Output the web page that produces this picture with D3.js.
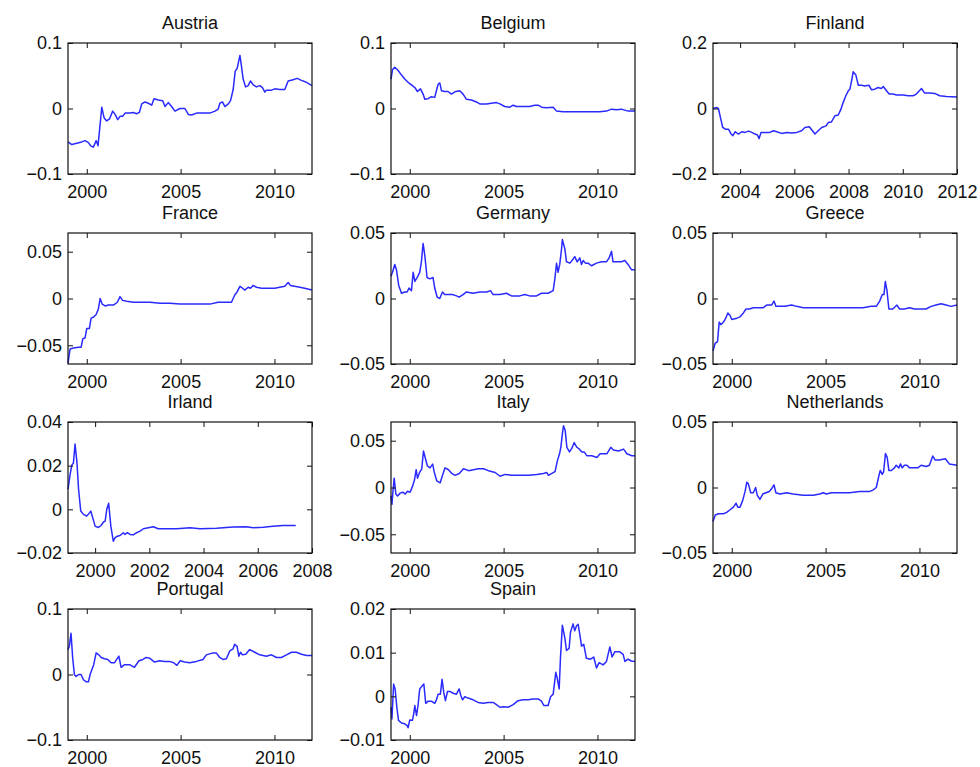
<!DOCTYPE html>
<html>
<head>
<meta charset="utf-8">
<script src="https://cdn.jsdelivr.net/npm/d3@7"></script>
<style>
  body { margin: 0; background: #fff; }
  text { font-family: "Liberation Sans", Arial, sans-serif; fill: #111; }
</style>
</head>
<body>
<div id="chart"></div>
<script>
// values: [decimal year, value]
var austria = [[1999.0,-0.051],[1999.2,-0.055],[1999.47,-0.053],[1999.73,-0.051],[1999.91,-0.049],[2000.09,-0.052],[2000.21,-0.057],[2000.35,-0.059],[2000.5,-0.049],[2000.6,-0.057],[2000.8,0.002],[2000.92,-0.014],[2001.06,-0.019],[2001.21,-0.016],[2001.38,-0.004],[2001.51,-0.009],[2001.65,-0.017],[2001.77,-0.012],[2001.91,-0.012],[2002.04,-0.007],[2002.3,-0.007],[2002.48,-0.006],[2002.66,-0.008],[2002.8,-0.006],[2002.93,0.007],[2003.1,0.010],[2003.28,0.008],[2003.46,0.005],[2003.58,0.015],[2003.81,0.013],[2004.04,0.012],[2004.17,0.003],[2004.34,0.009],[2004.52,0.003],[2004.7,-0.004],[2004.96,0.000],[2005.23,0.000],[2005.41,-0.009],[2005.59,-0.010],[2005.85,-0.007],[2006.21,-0.007],[2006.56,-0.007],[2006.83,-0.004],[2007.0,-0.001],[2007.09,0.008],[2007.23,0.010],[2007.36,0.003],[2007.54,0.007],[2007.66,0.012],[2007.8,0.029],[2007.91,0.057],[2008.01,0.061],[2008.16,0.081],[2008.24,0.065],[2008.33,0.045],[2008.46,0.033],[2008.6,0.035],[2008.72,0.042],[2008.87,0.036],[2009.04,0.033],[2009.22,0.035],[2009.36,0.032],[2009.49,0.025],[2009.57,0.028],[2009.84,0.028],[2010.02,0.030],[2010.28,0.029],[2010.55,0.029],[2010.73,0.042],[2010.99,0.044],[2011.21,0.046],[2011.44,0.043],[2011.7,0.040],[2012.0,0.035]];

var belgium = [[1999.0,0.045],[1999.08,0.059],[1999.2,0.063],[1999.38,0.058],[1999.56,0.051],[1999.73,0.045],[1999.91,0.040],[2000.09,0.036],[2000.27,0.032],[2000.41,0.026],[2000.57,0.030],[2000.71,0.022],[2000.8,0.014],[2000.98,0.015],[2001.15,0.018],[2001.33,0.017],[2001.51,0.037],[2001.6,0.039],[2001.69,0.027],[2001.86,0.026],[2002.04,0.026],[2002.22,0.022],[2002.45,0.026],[2002.66,0.027],[2002.84,0.022],[2003.02,0.014],[2003.29,0.013],[2003.55,0.010],[2003.73,0.007],[2004.09,0.007],[2004.35,0.008],[2004.62,0.009],[2004.8,0.007],[2005.06,0.003],[2005.33,0.002],[2005.51,0.005],[2005.68,0.003],[2006.04,0.003],[2006.39,0.003],[2006.66,0.005],[2006.84,0.005],[2007.02,0.002],[2007.28,0.001],[2007.64,0.002],[2007.82,-0.004],[2008.17,-0.005],[2008.7,-0.005],[2009.41,-0.005],[2010.12,-0.005],[2010.48,-0.004],[2010.75,-0.001],[2011.01,-0.002],[2011.28,-0.001],[2011.63,-0.004],[2012.0,-0.004]];

var finland = [[2003.0,0.000],[2003.14,0.003],[2003.2,0.000],[2003.29,-0.033],[2003.36,-0.058],[2003.45,-0.063],[2003.57,-0.063],[2003.67,-0.078],[2003.73,-0.083],[2003.82,-0.071],[2003.94,-0.078],[2004.06,-0.071],[2004.18,-0.073],[2004.31,-0.069],[2004.43,-0.073],[2004.55,-0.078],[2004.64,-0.081],[2004.7,-0.092],[2004.77,-0.073],[2004.92,-0.073],[2005.1,-0.073],[2005.23,-0.068],[2005.35,-0.071],[2005.53,-0.076],[2005.72,-0.073],[2005.9,-0.075],[2006.09,-0.073],[2006.27,-0.068],[2006.39,-0.058],[2006.55,-0.056],[2006.67,-0.068],[2006.76,-0.078],[2006.88,-0.068],[2007.01,-0.058],[2007.17,-0.053],[2007.25,-0.043],[2007.37,-0.041],[2007.5,-0.022],[2007.62,-0.020],[2007.72,-0.002],[2007.8,0.018],[2007.9,0.039],[2007.99,0.054],[2008.05,0.059],[2008.11,0.084],[2008.17,0.112],[2008.27,0.102],[2008.36,0.071],[2008.48,0.071],[2008.6,0.069],[2008.75,0.071],[2008.85,0.057],[2008.97,0.059],[2009.09,0.064],[2009.21,0.061],[2009.28,0.067],[2009.4,0.054],[2009.5,0.044],[2009.64,0.044],[2009.77,0.041],[2010.01,0.041],[2010.2,0.039],[2010.38,0.039],[2010.5,0.044],[2010.69,0.061],[2010.81,0.047],[2010.99,0.047],[2011.18,0.046],[2011.36,0.039],[2011.61,0.037],[2012.0,0.035]];

var france = [[1999.0,-0.069],[1999.11,-0.054],[1999.29,-0.053],[1999.56,-0.052],[1999.7,-0.052],[1999.79,-0.043],[1999.91,-0.042],[2000.0,-0.032],[2000.14,-0.032],[2000.23,-0.021],[2000.35,-0.020],[2000.5,-0.017],[2000.62,-0.011],[2000.71,0.000],[2000.82,-0.006],[2000.98,-0.008],[2001.15,-0.007],[2001.42,-0.007],[2001.63,-0.004],[2001.77,0.002],[2001.91,-0.002],[2002.13,-0.003],[2002.48,-0.004],[2002.84,-0.004],[2003.37,-0.004],[2003.9,-0.005],[2004.43,-0.005],[2004.96,-0.006],[2005.5,-0.006],[2006.03,-0.006],[2006.56,-0.006],[2007.0,-0.004],[2007.45,-0.004],[2007.71,-0.004],[2007.89,0.004],[2008.01,0.007],[2008.16,0.013],[2008.3,0.011],[2008.42,0.009],[2008.6,0.012],[2008.72,0.011],[2008.87,0.014],[2009.04,0.012],[2009.31,0.011],[2009.57,0.011],[2009.84,0.011],[2010.02,0.011],[2010.28,0.012],[2010.55,0.013],[2010.73,0.017],[2010.85,0.014],[2011.08,0.013],[2011.35,0.012],[2011.61,0.011],[2012.0,0.009]];

var germany = [[1999.0,0.017],[1999.08,0.020],[1999.2,0.026],[1999.29,0.022],[1999.41,0.010],[1999.56,0.004],[1999.73,0.005],[1999.86,0.005],[1999.96,0.008],[2000.09,0.006],[2000.18,0.020],[2000.27,0.013],[2000.39,0.016],[2000.53,0.020],[2000.62,0.028],[2000.71,0.042],[2000.8,0.033],[2000.92,0.016],[2001.07,0.015],[2001.24,0.016],[2001.33,0.008],[2001.46,0.001],[2001.6,0.000],[2001.74,0.005],[2001.86,0.003],[2002.04,0.003],[2002.27,0.003],[2002.49,0.002],[2002.63,0.001],[2002.84,0.003],[2003.02,0.005],[2003.37,0.004],[2003.73,0.005],[2004.09,0.005],[2004.3,0.006],[2004.44,0.003],[2004.8,0.003],[2005.15,0.004],[2005.42,0.002],[2005.86,0.002],[2006.13,0.003],[2006.39,0.002],[2006.75,0.002],[2007.02,0.004],[2007.37,0.004],[2007.64,0.006],[2007.73,0.015],[2007.82,0.027],[2007.9,0.020],[2007.99,0.026],[2008.08,0.037],[2008.13,0.045],[2008.26,0.038],[2008.35,0.028],[2008.53,0.027],[2008.7,0.030],[2008.79,0.032],[2008.92,0.028],[2009.06,0.031],[2009.15,0.026],[2009.24,0.029],[2009.36,0.027],[2009.5,0.027],[2009.68,0.025],[2009.95,0.027],[2010.21,0.028],[2010.48,0.028],[2010.62,0.031],[2010.75,0.036],[2010.83,0.028],[2011.1,0.028],[2011.28,0.028],[2011.46,0.029],[2011.63,0.026],[2011.81,0.022],[2012.0,0.022]];

var greece = [[1999.0,-0.040],[1999.12,-0.034],[1999.24,-0.033],[1999.33,-0.018],[1999.42,-0.020],[1999.56,-0.018],[1999.68,-0.015],[1999.79,-0.011],[1999.91,-0.013],[2000.0,-0.016],[2000.27,-0.015],[2000.44,-0.014],[2000.62,-0.011],[2000.76,-0.008],[2000.94,-0.008],[2001.15,-0.007],[2001.42,-0.007],[2001.68,-0.007],[2001.86,-0.005],[2002.12,-0.005],[2002.25,-0.002],[2002.35,-0.006],[2002.57,-0.006],[2002.83,-0.006],[2003.19,-0.005],[2003.45,-0.006],[2003.81,-0.007],[2004.51,-0.007],[2005.4,-0.007],[2006.28,-0.007],[2006.99,-0.007],[2007.43,-0.006],[2007.7,-0.006],[2007.88,-0.002],[2008.02,0.003],[2008.11,0.003],[2008.18,0.013],[2008.27,0.006],[2008.37,-0.008],[2008.58,-0.008],[2008.8,-0.005],[2008.94,-0.008],[2009.2,-0.008],[2009.47,-0.007],[2009.73,-0.008],[2010.09,-0.008],[2010.35,-0.008],[2010.62,-0.006],[2010.88,-0.005],[2011.15,-0.004],[2011.42,-0.005],[2011.68,-0.006],[2012.0,-0.005]];

var irland = [[1999.0,0.0092],[1999.08,0.0161],[1999.14,0.0202],[1999.2,0.0212],[1999.26,0.0299],[1999.33,0.0215],[1999.39,0.0092],[1999.47,-0.0008],[1999.57,-0.0023],[1999.69,-0.0031],[1999.75,-0.0023],[1999.84,-0.0008],[1999.91,-0.0038],[2000.0,-0.0077],[2000.12,-0.0083],[2000.22,-0.0074],[2000.31,-0.0058],[2000.37,-0.0054],[2000.43,0.0000],[2000.5,0.0028],[2000.58,-0.0077],[2000.67,-0.0146],[2000.74,-0.0130],[2000.82,-0.0123],[2000.92,-0.0120],[2001.04,-0.0107],[2001.1,-0.0115],[2001.19,-0.0107],[2001.29,-0.0115],[2001.41,-0.0117],[2001.53,-0.0107],[2001.66,-0.0100],[2001.78,-0.0089],[2001.96,-0.0084],[2002.15,-0.0080],[2002.33,-0.0089],[2002.64,-0.0089],[2003.01,-0.0089],[2003.5,-0.0084],[2003.87,-0.0089],[2004.48,-0.0087],[2005.09,-0.0081],[2005.58,-0.0080],[2005.83,-0.0084],[2006.2,-0.0082],[2006.56,-0.0077],[2006.93,-0.0074],[2007.4,-0.0074]];

var italy = [[1999.0,-0.009],[1999.05,-0.018],[1999.1,-0.005],[1999.17,0.010],[1999.26,-0.007],[1999.35,-0.009],[1999.49,-0.006],[1999.63,-0.005],[1999.76,-0.007],[1999.88,-0.004],[2000.02,-0.005],[2000.16,0.002],[2000.25,0.008],[2000.34,0.019],[2000.41,0.010],[2000.52,0.016],[2000.64,0.020],[2000.73,0.039],[2000.82,0.032],[2000.94,0.023],[2001.08,0.021],[2001.22,0.025],[2001.31,0.016],[2001.44,0.007],[2001.62,0.005],[2001.76,0.014],[2001.88,0.021],[2002.06,0.019],[2002.24,0.015],[2002.41,0.013],[2002.64,0.015],[2002.86,0.020],[2003.13,0.018],[2003.39,0.019],[2003.66,0.020],[2003.93,0.020],[2004.19,0.018],[2004.55,0.016],[2004.81,0.012],[2005.08,0.014],[2005.43,0.013],[2005.88,0.013],[2006.32,0.013],[2006.77,0.014],[2007.12,0.015],[2007.3,0.016],[2007.39,0.013],[2007.57,0.015],[2007.74,0.017],[2007.87,0.029],[2007.98,0.036],[2008.05,0.043],[2008.14,0.059],[2008.19,0.066],[2008.28,0.061],[2008.37,0.043],[2008.51,0.038],[2008.64,0.042],[2008.76,0.048],[2008.9,0.043],[2009.04,0.041],[2009.17,0.038],[2009.29,0.038],[2009.43,0.034],[2009.7,0.034],[2009.97,0.032],[2010.14,0.036],[2010.5,0.036],[2010.71,0.043],[2010.85,0.040],[2011.12,0.039],[2011.39,0.041],[2011.57,0.036],[2011.83,0.034],[2012.0,0.034]];

var netherlands = [[1999.0,-0.026],[1999.12,-0.021],[1999.29,-0.020],[1999.56,-0.020],[1999.73,-0.019],[1999.91,-0.017],[2000.09,-0.015],[2000.23,-0.012],[2000.32,-0.015],[2000.44,-0.015],[2000.58,-0.010],[2000.71,-0.003],[2000.8,0.004],[2000.88,0.003],[2001.01,-0.004],[2001.15,-0.004],[2001.27,0.000],[2001.36,-0.006],[2001.5,-0.009],[2001.65,-0.005],[2001.82,-0.004],[2002.0,-0.003],[2002.12,-0.001],[2002.25,0.002],[2002.35,-0.004],[2002.57,-0.005],[2002.92,-0.004],[2003.27,-0.005],[2003.81,-0.006],[2004.34,-0.006],[2004.69,-0.005],[2004.87,-0.004],[2005.04,-0.005],[2005.31,-0.004],[2005.75,-0.004],[2006.28,-0.004],[2006.81,-0.003],[2007.35,-0.003],[2007.52,-0.002],[2007.7,0.000],[2007.84,0.009],[2007.91,0.013],[2008.02,0.010],[2008.09,0.012],[2008.19,0.026],[2008.28,0.023],[2008.37,0.013],[2008.5,0.013],[2008.67,0.015],[2008.76,0.017],[2008.9,0.015],[2008.99,0.018],[2009.08,0.015],[2009.2,0.017],[2009.33,0.017],[2009.47,0.015],[2009.73,0.015],[2009.91,0.015],[2010.09,0.017],[2010.35,0.016],[2010.53,0.017],[2010.71,0.024],[2010.83,0.021],[2011.06,0.021],[2011.38,0.022],[2011.59,0.018],[2012.0,0.017]];

var portugal = [[1999.0,0.038],[1999.07,0.043],[1999.16,0.063],[1999.25,0.025],[1999.34,0.000],[1999.43,-0.003],[1999.57,0.000],[1999.7,0.000],[1999.82,-0.008],[1999.96,-0.011],[2000.09,-0.011],[2000.18,0.000],[2000.28,0.008],[2000.37,0.015],[2000.5,0.033],[2000.64,0.030],[2000.77,0.026],[2000.94,0.024],[2001.12,0.023],[2001.3,0.018],[2001.48,0.018],[2001.71,0.028],[2001.83,0.011],[2002.01,0.015],[2002.28,0.015],[2002.54,0.011],[2002.78,0.021],[2002.99,0.023],[2003.17,0.026],[2003.35,0.025],[2003.61,0.019],[2003.88,0.021],[2004.15,0.020],[2004.41,0.020],[2004.63,0.018],[2004.8,0.014],[2004.98,0.021],[2005.21,0.019],[2005.48,0.018],[2005.84,0.020],[2006.19,0.023],[2006.37,0.030],[2006.73,0.033],[2006.9,0.033],[2007.08,0.026],[2007.26,0.023],[2007.44,0.024],[2007.62,0.036],[2007.79,0.039],[2007.88,0.046],[2008.01,0.043],[2008.1,0.028],[2008.19,0.034],[2008.29,0.030],[2008.47,0.031],[2008.68,0.038],[2008.95,0.034],[2009.22,0.030],[2009.57,0.028],[2009.84,0.030],[2010.11,0.026],[2010.37,0.026],[2010.64,0.030],[2010.91,0.034],[2011.17,0.034],[2011.44,0.031],[2011.71,0.029],[2012.0,0.029]];

var spain = [[1999.0,-0.0025],[1999.05,-0.0052],[1999.14,0.0028],[1999.22,0.0017],[1999.31,-0.0025],[1999.4,-0.0055],[1999.56,-0.0061],[1999.73,-0.0063],[1999.86,-0.0067],[1999.91,-0.0072],[2000.0,-0.0054],[2000.14,-0.0055],[2000.21,-0.0040],[2000.27,-0.0021],[2000.36,-0.0044],[2000.44,-0.0021],[2000.53,0.0017],[2000.66,0.0024],[2000.75,0.0028],[2000.85,-0.0016],[2000.98,-0.0011],[2001.15,-0.0011],[2001.33,-0.0016],[2001.42,-0.0008],[2001.51,0.0005],[2001.63,0.0005],[2001.72,0.0039],[2001.81,0.0009],[2001.9,-0.0010],[2002.01,0.0011],[2002.17,0.0011],[2002.31,0.0007],[2002.49,0.0005],[2002.63,0.0017],[2002.72,0.0002],[2002.81,-0.0008],[2002.93,-0.0001],[2003.11,-0.0004],[2003.37,-0.0008],[2003.64,-0.0014],[2003.91,-0.0016],[2004.17,-0.0014],[2004.44,-0.0014],[2004.62,-0.0019],[2004.8,-0.0025],[2005.01,-0.0024],[2005.24,-0.0025],[2005.51,-0.0019],[2005.77,-0.0010],[2006.04,-0.0008],[2006.31,-0.0008],[2006.57,-0.0006],[2006.84,-0.0006],[2007.02,-0.0011],[2007.14,-0.0021],[2007.37,-0.0021],[2007.5,-0.0001],[2007.64,0.0005],[2007.78,0.0055],[2007.85,0.0043],[2007.96,0.0017],[2008.03,0.0089],[2008.13,0.0163],[2008.26,0.0134],[2008.35,0.0105],[2008.49,0.0110],[2008.56,0.0146],[2008.7,0.0166],[2008.79,0.0150],[2008.88,0.0161],[2008.97,0.0165],[2009.06,0.0142],[2009.15,0.0115],[2009.27,0.0119],[2009.41,0.0087],[2009.63,0.0085],[2009.8,0.0090],[2009.95,0.0065],[2010.09,0.0077],[2010.3,0.0072],[2010.48,0.0080],[2010.66,0.0113],[2010.78,0.0090],[2010.92,0.0102],[2011.19,0.0102],[2011.37,0.0096],[2011.46,0.0080],[2011.63,0.0085],[2011.81,0.0081],[2012.0,0.0080]];

// tick labels
var yearTicks5 = [2000, 2005, 2010];
var yearTicksFinland = [2004, 2006, 2008, 2010, 2012];
var yearTicksIrland = [2000, 2002, 2004, 2006, 2008];
var yTicks01 = [-0.1, 0, 0.1];
var yTicks02 = [-0.2, 0, 0.2];
var yTicks005 = [-0.05, 0, 0.05];
var yTicksIrland = [-0.02, 0, 0.02, 0.04];
var yTicksSpain = [-0.01, 0, 0.01, 0.02];

var panels = [
  { name: "Austria", data: austria, xd: [1999, 2012], yd: [-0.1, 0.1], xt: yearTicks5, yt: yTicks01 },
  { name: "Belgium", data: belgium, xd: [1999, 2012], yd: [-0.1, 0.1], xt: yearTicks5, yt: yTicks01 },
  { name: "Finland", data: finland, xd: [2003, 2012], yd: [-0.2, 0.2], xt: yearTicksFinland, yt: yTicks02 },
  { name: "France", data: france, xd: [1999, 2012], yd: [-0.07, 0.07], xt: yearTicks5, yt: yTicks005 },
  { name: "Germany", data: germany, xd: [1999, 2012], yd: [-0.05, 0.05], xt: yearTicks5, yt: yTicks005 },
  { name: "Greece", data: greece, xd: [1999, 2012], yd: [-0.05, 0.05], xt: yearTicks5, yt: yTicks005 },
  { name: "Irland", data: irland, xd: [1999, 2008], yd: [-0.02, 0.04], xt: yearTicksIrland, yt: yTicksIrland },
  { name: "Italy", data: italy, xd: [1999, 2012], yd: [-0.07, 0.07], xt: yearTicks5, yt: yTicks005 },
  { name: "Netherlands", data: netherlands, xd: [1999, 2012], yd: [-0.05, 0.05], xt: yearTicks5, yt: yTicks005 },
  { name: "Portugal", data: portugal, xd: [1999, 2012], yd: [-0.1, 0.1], xt: yearTicks5, yt: yTicks01 },
  { name: "Spain", data: spain, xd: [1999, 2012], yd: [-0.01, 0.02], xt: yearTicks5, yt: yTicksSpain }
];

var svgWidth = 980;
var svgHeight = 767;
var colX = [68, 391, 713];
var rowY = [43, 233, 422, 609];
var width = 244;
var height = 131;
var tick = 5;

var svg = d3.select("#chart").append("svg")
  .attr("width", svgWidth)
  .attr("height", svgHeight);

var fmt = function (d) { return d === 0 ? "0" : String(d).replace("-", "\u2212"); };

panels.forEach(function (p, i) {
  var g = svg.append("g")
    .attr("transform", `translate(${colX[i % 3]}, ${rowY[Math.floor(i / 3)]})`);

  var x = d3.scaleLinear().domain(p.xd).range([0, width]);
  var y = d3.scaleLinear().domain(p.yd).range([height, 0]);

  // line first, frame on top
  g.append("path")
    .datum(p.data)
    .attr("fill", "none")
    .attr("stroke", "#2a2aff")
    .attr("stroke-width", 1.5)
    .attr("stroke-linejoin", "round")
    .attr("d", d3.line().x(d => x(d[0])).y(d => y(d[1])));

  // inward ticks on all four sides, labels only bottom and left
  g.append("g")
    .attr("transform", `translate(0, ${height})`)
    .call(d3.axisBottom(x).tickValues(p.xt).tickFormat(d3.format("d"))
      .tickSizeInner(-tick).tickSizeOuter(0).tickPadding(11));
  g.append("g")
    .call(d3.axisLeft(y).tickValues(p.yt).tickFormat(fmt)
      .tickSizeInner(-tick).tickSizeOuter(0).tickPadding(6));
  g.append("g")
    .call(d3.axisTop(x).tickValues(p.xt).tickFormat("")
      .tickSizeInner(-tick).tickSizeOuter(0));
  g.append("g")
    .attr("transform", `translate(${width}, 0)`)
    .call(d3.axisRight(y).tickValues(p.yt).tickFormat("")
      .tickSizeInner(-tick).tickSizeOuter(0));

  g.selectAll(".domain").remove();
  g.selectAll(".tick line").attr("stroke", "#111");
  g.selectAll(".tick text")
    .style("font-size", "18px")
    .style("font-family", "'Liberation Sans', Arial, sans-serif")
    .attr("fill", "#111");

  g.append("rect")
    .attr("width", width)
    .attr("height", height)
    .attr("fill", "none")
    .attr("stroke", "#111")
    .attr("stroke-width", 1.2);

  g.append("text")
    .attr("x", width / 2)
    .attr("y", -14)
    .attr("text-anchor", "middle")
    .style("font-size", "18px")
    .text(p.name);
});
</script>
</body>
</html>
